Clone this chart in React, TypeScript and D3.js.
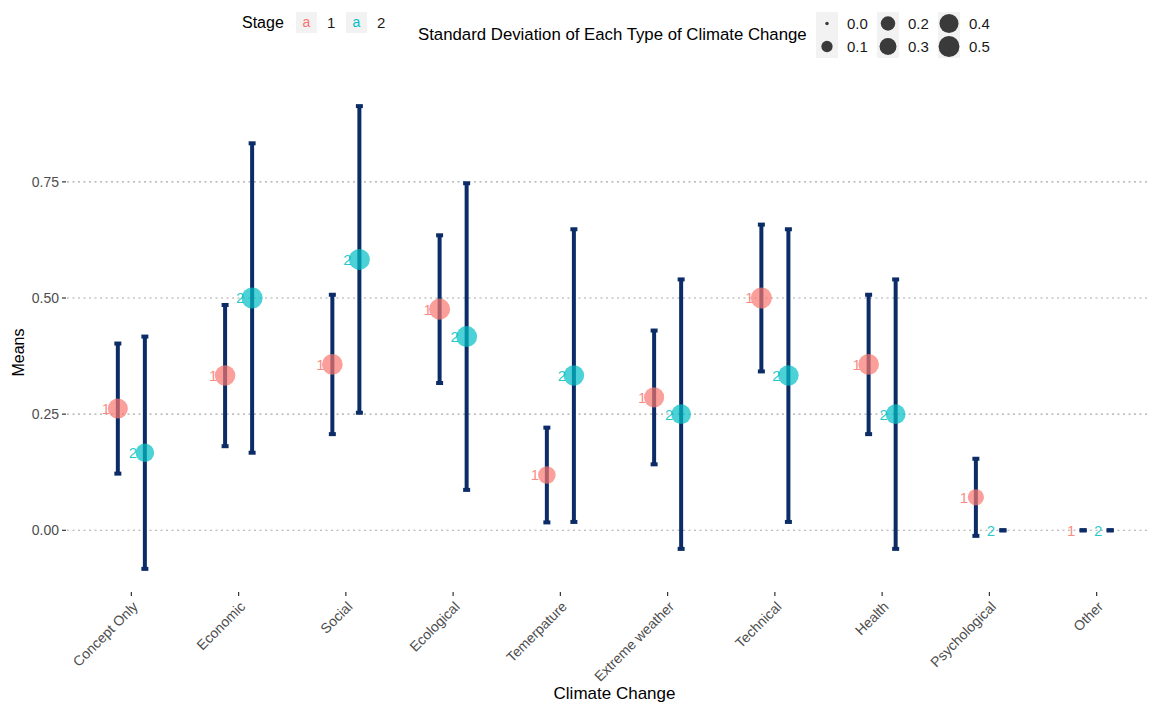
import React from "react";
import * as d3 from "d3";

const categories = ["Concept Only", "Economic", "Social", "Ecological", "Temerpature", "Extreme weather", "Technical", "Health", "Psychological", "Other"];
const stages = ["1", "2"];
const stage1Means = [0.262, 0.333, 0.357, 0.476, 0.119, 0.286, 0.5, 0.357, 0.071, 0];
const stage1Err = [0.14, 0.152, 0.15, 0.159, 0.102, 0.144, 0.158, 0.15, 0.083, 0];
const stage2Means = [0.167, 0.5, 0.583, 0.417, 0.333, 0.25, 0.333, 0.25, 0, 0];
const stage2Err = [0.25, 0.333, 0.33, 0.33, 0.315, 0.29, 0.315, 0.29, 0, 0];
const stage1Size = [0.44, 0.47, 0.48, 0.5, 0.32, 0.45, 0.5, 0.48, 0.26, 0];
const stage2Size = [0.37, 0.5, 0.49, 0.49, 0.47, 0.43, 0.47, 0.43, 0, 0];
const yTicks = [0, 0.25, 0.5, 0.75];
const sizeLegendValues = [0.0, 0.1, 0.2, 0.3, 0.4, 0.5];

const stageColors = ["#F8766D", "#00BFC4"];
const barColor = "#0B2C66";
const font = "Liberation Sans, Arial, sans-serif";

export default function App() {
  const W = 1150, H = 704;
  const left = 67, right = 1161, top = 83, bottom = 592;

  const rows = categories.flatMap((c, i) => [
    { cat: c, stage: 0, mean: stage1Means[i], err: stage1Err[i], size: stage1Size[i] },
    { cat: c, stage: 1, mean: stage2Means[i], err: stage2Err[i], size: stage2Size[i] },
  ]);

  const lo = d3.min(rows, (r) => r.mean - r.err)!;
  const hi = d3.max(rows, (r) => r.mean + r.err)!;
  const span = hi - lo;
  const y = d3.scaleLinear().domain([lo - 0.05 * span, hi + 0.05 * span]).range([bottom, top]);
  const x = d3.scalePoint<string>().domain(categories).range([left, right]).padding(0.6);
  const step = x.step();
  const dodge = d3.scaleOrdinal<number, number>().domain([0, 1]).range([-0.126 * step, 0.126 * step]);
  const rScale = (v: number) => 1.83 * (1 + 5 * Math.sqrt(v / 0.5));
  const fmt = d3.format(".2f");

  const capW = 7;

  return (
    <svg width={W} height={H} style={{ position: "absolute", left: 0, top: 0, background: "#fff" }} fontFamily={font}>
      {/* grid */}
      {yTicks.map((t) => (
        <g key={"g" + t}>
          <line x1={left} x2={W} y1={y(t)} y2={y(t)} stroke="#A8A8A8" strokeWidth={1.1} strokeDasharray="2,3.5" />
          <line x1={62} x2={66} y1={y(t)} y2={y(t)} stroke="#333" strokeWidth={1.2} />
          <text x={59} y={y(t)} dy="0.35em" textAnchor="end" fontSize={14} fill="#4D4D4D">{fmt(t)}</text>
        </g>
      ))}
      {/* x ticks and labels */}
      {categories.map((c) => (
        <g key={"x" + c}>
          <line x1={x(c)} x2={x(c)} y1={bottom} y2={bottom + 4} stroke="#333" strokeWidth={1.2} />
          <text transform={`translate(${x(c)! + 4},${bottom + 12}) rotate(-45)`} textAnchor="end" dy="0.35em" fontSize={14} fill="#4D4D4D">{c}</text>
        </g>
      ))}
      {/* error bars */}
      {rows.map((r, i) => {
        const cx = x(r.cat)! + dodge(r.stage);
        return (
          <g key={"e" + i}>
            <line x1={cx} x2={cx} y1={y(r.mean - r.err)} y2={y(r.mean + r.err)} stroke={barColor} strokeWidth={4} />
            <line x1={cx - capW / 2} x2={cx + capW / 2} y1={y(r.mean - r.err)} y2={y(r.mean - r.err)} stroke={barColor} strokeWidth={4} />
            <line x1={cx - capW / 2} x2={cx + capW / 2} y1={y(r.mean + r.err)} y2={y(r.mean + r.err)} stroke={barColor} strokeWidth={4} />
          </g>
        );
      })}
      {/* points */}
      {rows.filter((r) => r.size > 0).map((r, i) => {
        const cx = x(r.cat)! + dodge(r.stage);
        return <circle key={"p" + i} cx={cx} cy={y(r.mean)} r={rScale(r.size) * 0.96} fill={stageColors[r.stage]} fillOpacity={0.7} />;
      })}
      {/* labels */}
      {rows.map((r, i) => {
        const cx = x(r.cat)! + dodge(r.stage);
        return (
          <text key={"t" + i} x={cx - 12} y={y(r.mean)} dy="0.36em" textAnchor="middle" fontSize={15} fill={stageColors[r.stage]} fillOpacity={0.85}>
            {stages[r.stage]}
          </text>
        );
      })}
      {/* axis titles */}
      <text x={(left + 1150) / 2 + 6} y={693} dy="0.35em" textAnchor="middle" fontSize={17} fill="#000">Climate Change</text>
      <text transform={`translate(18,${(top + bottom) / 2 + 15}) rotate(-90)`} dy="0.35em" textAnchor="middle" fontSize={16} fill="#000">Means</text>

      {/* stage legend */}
      <text x={242} y={22} dy="0.35em" fontSize={16} fill="#000">Stage</text>
      {stages.map((s, i) => (
        <g key={"sl" + s} transform={`translate(${296 + i * 50},12)`}>
          <rect width={21} height={21} fill="#F2F2F2" />
          <text x={10.5} y={10.5} dy="0.35em" textAnchor="middle" fontSize={14} fill={stageColors[i]}>a</text>
          <text x={31} y={10.5} dy="0.35em" fontSize={15} fill="#1a1a1a">{s}</text>
        </g>
      ))}
      {/* size legend */}
      <text x={418} y={34} dy="0.35em" fontSize={16.8} fill="#000">Standard Deviation of Each Type of Climate Change</text>
      {sizeLegendValues.map((v, i) => {
        const col = Math.floor(i / 2), row = i % 2;
        const kx = 816 + col * 61, ky = 12 + row * 23;
        return (
          <g key={"sz" + i} transform={`translate(${kx},${ky})`}>
            <rect width={22} height={23} fill="#F2F2F2" />
            <circle cx={11} cy={11.5} r={rScale(v) * 0.95} fill="#3A3A3A" />
            <text x={31} y={11.5} dy="0.35em" fontSize={15} fill="#1a1a1a">{v.toFixed(1)}</text>
          </g>
        );
      })}
    </svg>
  );
}
